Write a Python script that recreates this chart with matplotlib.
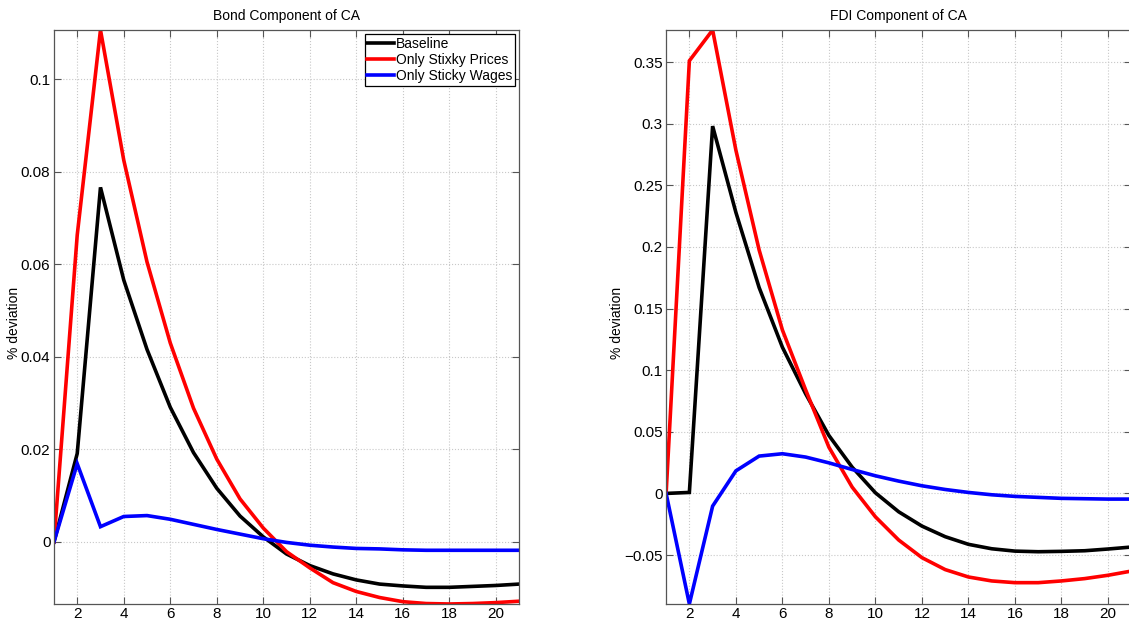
import matplotlib
matplotlib.use("Agg")
import matplotlib.pyplot as plt
import numpy as np
from matplotlib.ticker import FuncFormatter, MultipleLocator

plt.rcParams['font.family'] = ['Liberation Sans', 'DejaVu Sans']

# Impulse responses, periods 1..21
periods = np.arange(1, 22)

bond_baseline = [0, 0.0191, 0.0766, 0.0566, 0.0416, 0.0291, 0.0193, 0.0116, 0.0056,
                 0.0011, -0.0026, -0.0051, -0.0069, -0.0082, -0.0091, -0.0095, -0.0098,
                 -0.0098, -0.0096, -0.0094, -0.0091]
bond_prices = [0, 0.0663, 0.1106, 0.0825, 0.0605, 0.0430, 0.0289, 0.0179, 0.0093,
               0.0030, -0.0021, -0.0056, -0.0088, -0.0107, -0.0120, -0.0129, -0.0133,
               -0.0134, -0.0133, -0.0131, -0.0128]
bond_wages = [0, 0.0169, 0.0033, 0.0055, 0.0057, 0.0049, 0.0038, 0.0027, 0.0017,
              0.0007, -0.0001, -0.0007, -0.0011, -0.0014, -0.0015, -0.0017, -0.0018,
              -0.0018, -0.0018, -0.0018, -0.0018]

fdi_baseline = [0, 0.0008, 0.298, 0.228, 0.167, 0.1186, 0.0808, 0.047, 0.0213,
                0.0005, -0.0149, -0.0265, -0.0351, -0.0413, -0.0449, -0.0468, -0.0473,
                -0.0470, -0.0465, -0.0451, -0.0435]
fdi_prices = [0, 0.351, 0.376, 0.2785, 0.1975, 0.1326, 0.084, 0.0375, 0.0051,
              -0.019, -0.0378, -0.0521, -0.0618, -0.0678, -0.0710, -0.0724, -0.0724,
              -0.0710, -0.0691, -0.0664, -0.0630]
fdi_wages = [0, -0.0897, -0.0103, 0.0183, 0.0303, 0.0322, 0.0295, 0.0248, 0.0194,
             0.0143, 0.0100, 0.0062, 0.0032, 0.0008, -0.0011, -0.0024, -0.0032,
             -0.0040, -0.0043, -0.0046, -0.0046]

series_labels = ['Baseline', 'Only Stixky Prices', 'Only Sticky Wages']
series_colors = ['black', '#ff0000', '#0000ff']

fig = plt.figure(figsize=(11.29, 6.27), dpi=100)
ax1 = fig.add_axes([0.0478, 0.0367, 0.412, 0.9155])
ax2 = fig.add_axes([0.590, 0.0367, 0.412, 0.9155])

fmt = FuncFormatter(lambda v, p: ('%g' % v).replace('-', '\u2212') if abs(v) > 1e-12 else '0')


def draw_panel(ax, data, title, ylim, ystep, label_x):
    for vals, lab, col in zip(data, series_labels, series_colors):
        ax.plot(periods, vals, color=col, lw=2.6, label=lab, solid_joinstyle='miter')
    ax.set_xlim(1, 21)
    ax.set_ylim(*ylim)
    ax.xaxis.set_major_locator(MultipleLocator(2))
    ax.yaxis.set_major_locator(MultipleLocator(ystep))
    ax.yaxis.set_major_formatter(fmt)
    ax.grid(True, linestyle=':', color='#c8c8c8', lw=0.8)
    ax.tick_params(direction='in', top=True, right=True, labelsize=11,
                   length=5, color='#555555', pad=2.5)
    for s in ax.spines.values():
        s.set_color('#555555')
        s.set_linewidth(0.9)
    ax.set_title(title, fontsize=10, pad=7)
    ax.set_ylabel('% deviation', fontsize=10)
    ax.yaxis.set_label_coords(label_x, 0.49)


draw_panel(ax1, [bond_baseline, bond_prices, bond_wages], 'Bond Component of CA',
           (-0.0134, 0.1106), 0.02, -0.071)
draw_panel(ax2, [fdi_baseline, fdi_prices, fdi_wages], 'FDI Component of CA',
           (-0.0897, 0.376), 0.05, -0.09)

leg = ax1.legend(loc='upper right', fontsize=10, fancybox=False, framealpha=1,
                 edgecolor='black', borderpad=0.2, handlelength=1.9,
                 handletextpad=0.15, labelspacing=0.15, borderaxespad=0.3)
leg.get_frame().set_linewidth(0.9)

fig.savefig('out.png', dpi=100)
